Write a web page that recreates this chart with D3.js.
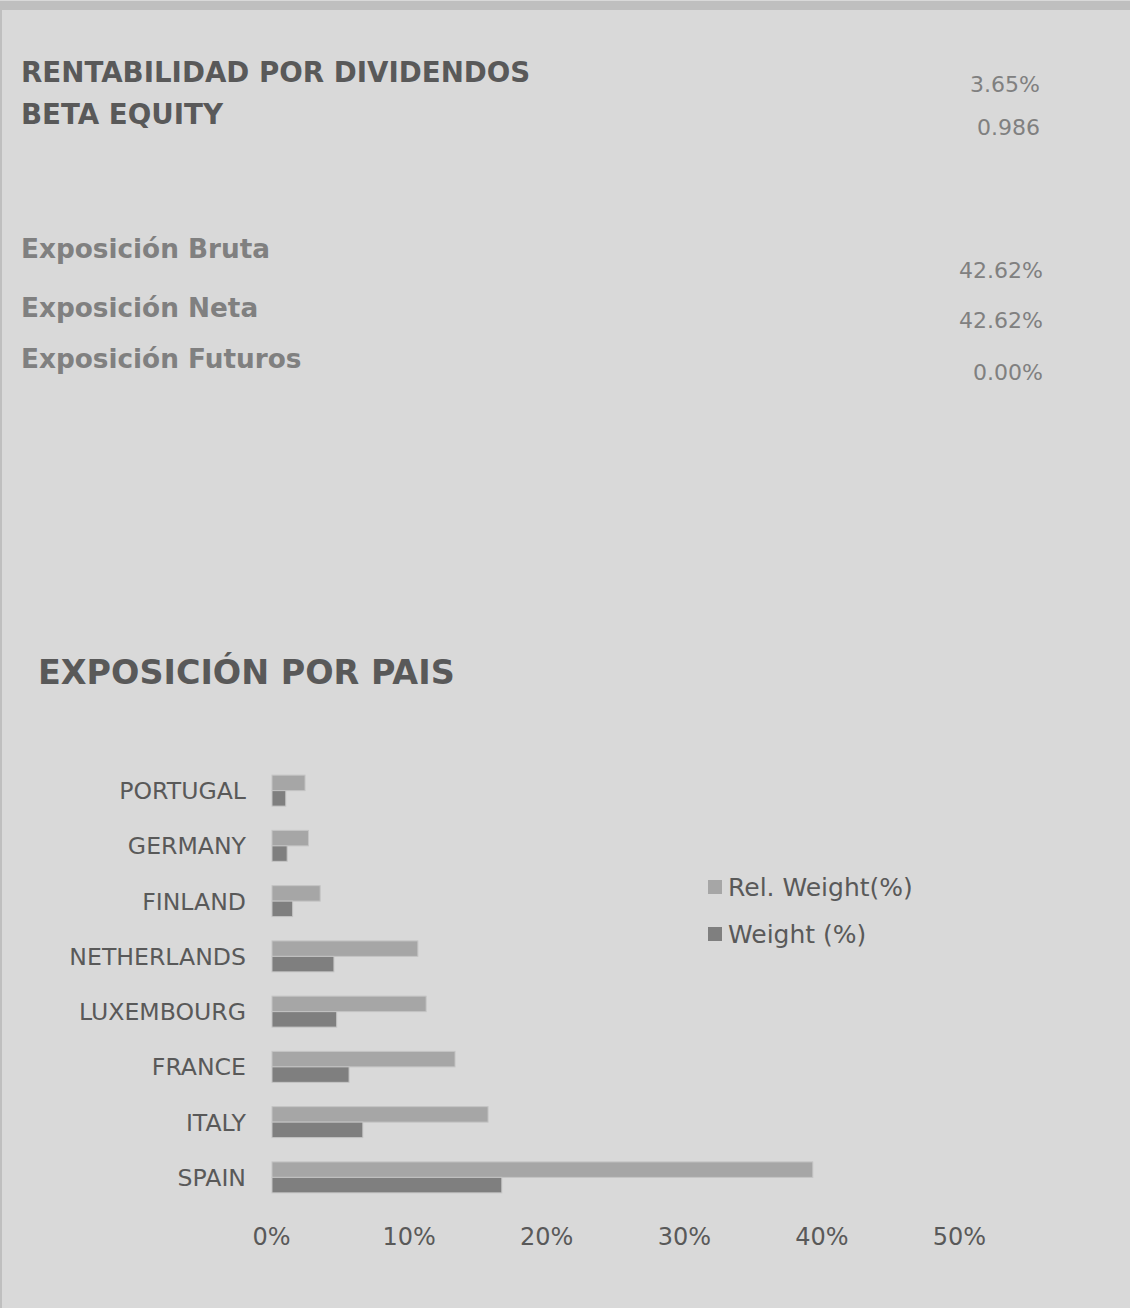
<!DOCTYPE html>
<html><head><meta charset="utf-8">
<script src="https://cdn.jsdelivr.net/npm/d3@7"></script>
<style>
html,body{margin:0;padding:0;background:#fff;}
svg{display:block;font-family:"DejaVu Sans",Verdana,sans-serif;}
</style></head>
<body>
<script>
const categories = ["PORTUGAL","GERMANY","FINLAND","NETHERLANDS","LUXEMBOURG","FRANCE","ITALY","SPAIN"];
const relWeight = [2.4, 2.65, 3.5, 10.6, 11.2, 13.3, 15.7, 39.3];
const weight = [1.0, 1.1, 1.5, 4.5, 4.7, 5.6, 6.6, 16.7];
const seriesNames = ["Rel. Weight(%)", "Weight (%)"];
const xTicks = [0, 10, 20, 30, 40, 50];
const statLabels = ["RENTABILIDAD POR DIVIDENDOS", "BETA EQUITY"];
const statValues = ["3.65%", "0.986"];
const expLabels = ["Exposición Bruta", "Exposición Neta", "Exposición Futuros"];
const expValues = ["42.62%", "42.62%", "0.00%"];
const chartTitle = "EXPOSICIÓN POR PAIS";

const W = 1130, H = 1308;
const svg = d3.select("body").append("svg").attr("width", W).attr("height", H);
svg.append("rect").attr("x",0).attr("y",0).attr("width",W).attr("height",H).attr("fill","#d9d9d9");
svg.append("rect").attr("x",0).attr("y",1).attr("width",W).attr("height",9).attr("fill","#bfbfbf");
svg.append("rect").attr("x",0).attr("y",1).attr("width",2).attr("height",H).attr("fill","#bfbfbf");

// top stats
const statY = [82, 124], statValY = [92, 135];
statLabels.forEach((t,i)=>{
  svg.append("text").attr("x",21).attr("y",statY[i]).attr("font-size",27.7).attr("font-weight","bold").attr("fill","#595959").text(t);
  svg.append("text").attr("x",1040).attr("y",statValY[i]).attr("font-size",22).attr("text-anchor","end").attr("fill","#808080").text(statValues[i]);
});
const expY = [258, 317, 368], expValY = [278, 328, 380];
expLabels.forEach((t,i)=>{
  svg.append("text").attr("x",21).attr("y",expY[i]).attr("font-size",26.3).attr("font-weight","bold").attr("fill","#808080").text(t);
  svg.append("text").attr("x",1043).attr("y",expValY[i]).attr("font-size",22).attr("text-anchor","end").attr("fill","#808080").text(expValues[i]);
});

svg.append("text").attr("x",38).attr("y",684).attr("font-size",33.4).attr("font-weight","bold").attr("fill","#595959").text(chartTitle);

// chart
const x = d3.scaleLinear().domain([0,50]).range([272, 960]);
const y = d3.scaleBand().domain(categories).range([763, 1205]).paddingInner(0.44).paddingOuter(0.22);
const sub = d3.scaleBand().domain(seriesNames).range([0, y.bandwidth()]);
const colors = {"Rel. Weight(%)":"#a6a6a6","Weight (%)":"#7f7f7f"};

const g = svg.append("g");
categories.forEach((c,i)=>{
  const vals = [relWeight[i], weight[i]];
  seriesNames.forEach((s,j)=>{
    g.append("rect").attr("x",x(0)).attr("y",y(c)+sub(s))
      .attr("width",x(vals[j])-x(0)).attr("height",sub.bandwidth())
      .attr("fill",colors[s]).attr("stroke","#c4c4c4").attr("stroke-width",1);
  });
});

const yAxis = d3.axisLeft(y).tickSize(0).tickPadding(0);
const ya = svg.append("g").attr("transform","translate(246,0)").call(yAxis);
ya.select(".domain").remove();
ya.selectAll("text").attr("font-size",23.6).attr("fill","#595959").attr("dy","0.36em").attr("font-family","DejaVu Sans, Verdana, sans-serif");

const xAxis = d3.axisBottom(x).tickValues(xTicks).tickFormat(d=>d+"%").tickSize(0).tickPadding(0);
const xa = svg.append("g").attr("transform","translate(-1,1228)").call(xAxis);
xa.select(".domain").remove();
xa.selectAll("text").attr("font-size",24).attr("fill","#595959").attr("font-family","DejaVu Sans, Verdana, sans-serif");

// legend
const legY = [887, 934];
seriesNames.forEach((s,i)=>{
  svg.append("rect").attr("x",708).attr("y",legY[i]-7).attr("width",14).attr("height",14).attr("fill",colors[s]);
  svg.append("text").attr("x",728).attr("y",legY[i]).attr("dy","0.36em").attr("font-size",25).attr("fill","#595959").text(s);
});
</script>
</body></html>
